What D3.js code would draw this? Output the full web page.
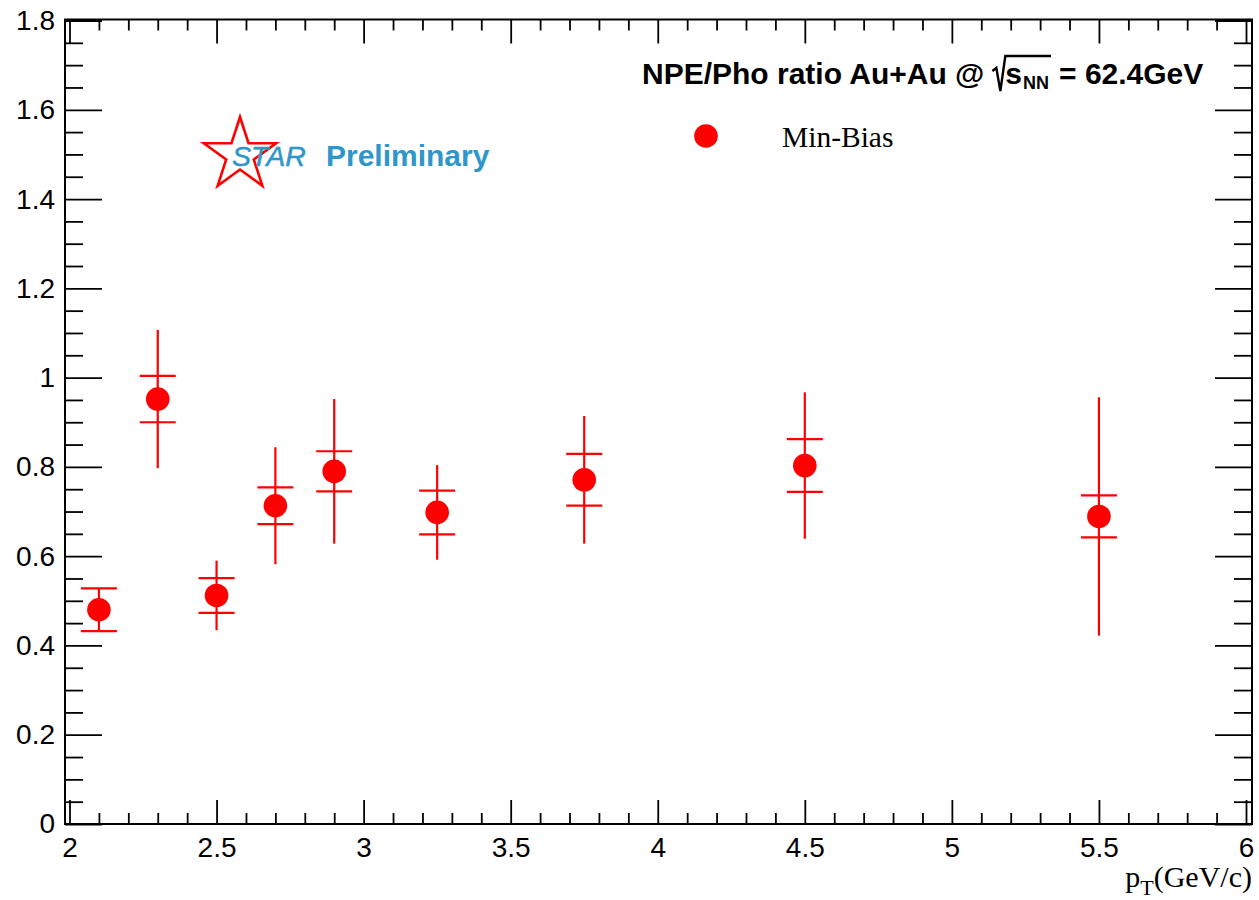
<!DOCTYPE html>
<html>
<head>
<meta charset="utf-8">
<script src="https://cdn.jsdelivr.net/npm/d3@7"></script>
<style>
  html, body { margin: 0; padding: 0; background: #fff; }
  svg { display: block; }
</style>
</head>
<body>
<script>
// ---------------- data ----------------
const pt       = [2.1, 2.3, 2.5, 2.7, 2.9, 3.25, 3.75, 4.5, 5.5];
const ratio    = [0.480, 0.952, 0.512, 0.713, 0.790, 0.698, 0.771, 0.803, 0.689];
const statErr  = [0.047, 0.155, 0.078, 0.131, 0.162, 0.106, 0.143, 0.164, 0.267];
const sysErr   = [0.048, 0.052, 0.039, 0.041, 0.045, 0.049, 0.058, 0.059, 0.047];

const xTickValues = [2, 2.5, 3, 3.5, 4, 4.5, 5, 5.5, 6];
const xTickLabels = ["2", "2.5", "3", "3.5", "4", "4.5", "5", "5.5", "6"];
const yTickValues = [0, 0.2, 0.4, 0.6, 0.8, 1.0, 1.2, 1.4, 1.6, 1.8];
const yTickLabels = ["0", "0.2", "0.4", "0.6", "0.8", "1", "1.2", "1.4", "1.6", "1.8"];

const legendLabel = "Min-Bias";
const xAxisTitle = ["p", "T", "(GeV/c)"];

// ---------------- layout ----------------
const W = 1259, H = 900;
const frame = { left: 65, right: 1252, top: 19.5, bottom: 824 };

const svg = d3.select("body").append("svg")
  .attr("width", W).attr("height", H)
  .attr("viewBox", `0 0 ${W} ${H}`);

const x = d3.scaleLinear().domain([2, 6]).range([69.5, 1246]);
const y = d3.scaleLinear().domain([0, 1.8]).range([824, 20.5]);

const xMinor = d3.range(2, 6.0001, 0.1).map(v => +v.toFixed(2)).filter(v => !xTickValues.some(t => Math.abs(t - v) < 1e-6));
const yMinor = d3.range(0, 1.8001, 0.05).map(v => +v.toFixed(3)).filter(v => !yTickValues.some(t => Math.abs(t - v) < 1e-6));

const axisFont = "Liberation Sans, Arial, Helvetica, sans-serif";
const serifFont = "Liberation Serif, Times New Roman, serif";

function styleAxis(g) {
  g.select(".domain").remove();
  g.selectAll(".tick line").attr("stroke", "#000").attr("stroke-width", 1.8);
  g.selectAll(".tick text").attr("fill", "#000").attr("font-family", axisFont).attr("font-size", 28);
}

// bottom axis - major
svg.append("g").attr("transform", `translate(0,${frame.bottom})`)
  .call(d3.axisBottom(x).tickValues(xTickValues).tickSize(-24).tickPadding(13)
        .tickFormat((d, i) => xTickLabels[i]))
  .call(styleAxis);
// bottom axis - minor
svg.append("g").attr("transform", `translate(0,${frame.bottom})`)
  .call(d3.axisBottom(x).tickValues(xMinor).tickSize(-11).tickFormat(""))
  .call(styleAxis);
// top axis
svg.append("g").attr("transform", `translate(0,${frame.top})`)
  .call(d3.axisTop(x).tickValues(xTickValues).tickSize(-24).tickFormat(""))
  .call(styleAxis);
svg.append("g").attr("transform", `translate(0,${frame.top})`)
  .call(d3.axisTop(x).tickValues(xMinor).tickSize(-11).tickFormat(""))
  .call(styleAxis);

// left axis
svg.append("g").attr("transform", `translate(${frame.left},0)`)
  .call(d3.axisLeft(y).tickValues(yTickValues).tickSize(-37).tickPadding(10)
        .tickFormat((d, i) => yTickLabels[i]))
  .call(styleAxis);
svg.append("g").attr("transform", `translate(${frame.left},0)`)
  .call(d3.axisLeft(y).tickValues(yMinor).tickSize(-18).tickFormat(""))
  .call(styleAxis);
// right axis
svg.append("g").attr("transform", `translate(${frame.right},0)`)
  .call(d3.axisRight(y).tickValues(yTickValues).tickSize(-37).tickFormat(""))
  .call(styleAxis);
svg.append("g").attr("transform", `translate(${frame.right},0)`)
  .call(d3.axisRight(y).tickValues(yMinor).tickSize(-18).tickFormat(""))
  .call(styleAxis);

// frame
svg.append("rect")
  .attr("x", frame.left).attr("y", frame.top)
  .attr("width", frame.right - frame.left).attr("height", frame.bottom - frame.top)
  .attr("fill", "none").attr("stroke", "#000").attr("stroke-width", 2);

// ---------------- data points ----------------
const data = pt.map((p, i) => ({ p, v: ratio[i], st: statErr[i], sy: sysErr[i] }));
const red = "#ff0000";
const capHalf = 18;

const pts = svg.append("g").attr("class", "points");
pts.selectAll("line.stat").data(data).join("line")
  .attr("class", "stat")
  .attr("x1", d => x(d.p)).attr("x2", d => x(d.p))
  .attr("y1", d => y(d.v + d.st)).attr("y2", d => y(d.v - d.st))
  .attr("stroke", red).attr("stroke-width", 2.2);
pts.selectAll("line.sysHi").data(data).join("line")
  .attr("class", "sysHi")
  .attr("x1", d => x(d.p) - capHalf).attr("x2", d => x(d.p) + capHalf)
  .attr("y1", d => y(d.v + d.sy)).attr("y2", d => y(d.v + d.sy))
  .attr("stroke", red).attr("stroke-width", 2.2);
pts.selectAll("line.sysLo").data(data).join("line")
  .attr("class", "sysLo")
  .attr("x1", d => x(d.p) - capHalf).attr("x2", d => x(d.p) + capHalf)
  .attr("y1", d => y(d.v - d.sy)).attr("y2", d => y(d.v - d.sy))
  .attr("stroke", red).attr("stroke-width", 2.2);
pts.selectAll("circle").data(data).join("circle")
  .attr("cx", d => x(d.p)).attr("cy", d => y(d.v)).attr("r", 11.8)
  .attr("fill", red);

// ---------------- legend ----------------
svg.append("circle").attr("cx", 706).attr("cy", 136).attr("r", 11.8).attr("fill", red);
svg.append("text").attr("x", 782).attr("y", 146.5)
  .attr("font-family", serifFont).attr("font-size", 29.5).attr("fill", "#000")
  .text(legendLabel);

// ---------------- title with sqrt ----------------
const tg = svg.append("g").attr("font-family", axisFont).attr("font-weight", "bold").attr("fill", "#000");
const base = 84, fs = 30;
let cx = 642;
const t1 = tg.append("text").attr("x", cx).attr("y", base).attr("font-size", fs).text("NPE/Pho ratio Au+Au @");
cx += t1.node().getComputedTextLength() + 8;
const radStart = cx;
const sText = tg.append("text").attr("x", radStart + 13).attr("y", base).attr("font-size", fs).text("s");
let sx = radStart + 13 + sText.node().getComputedTextLength() + 1;
const nnText = tg.append("text").attr("x", sx).attr("y", base + 5).attr("font-size", 18).text("NN");
sx += nnText.node().getComputedTextLength();
const rad = d3.path();
rad.moveTo(radStart, base - 13);
rad.lineTo(radStart + 4, base - 16);
rad.lineTo(radStart + 8, base + 7);
rad.lineTo(radStart + 13, base - 28);
rad.lineTo(sx + 2, base - 28);
tg.append("path").attr("d", rad.toString()).attr("fill", "none").attr("stroke", "#000").attr("stroke-width", 2.4);
tg.append("text").attr("x", sx + 10).attr("y", base).attr("font-size", fs).text("= 62.4GeV");

// ---------------- STAR Preliminary ----------------
const starR = 38, starCx = 240, starCy = 155;
const starPts = d3.range(10).map(i => {
  const r = i % 2 === 0 ? starR : starR * 0.382;
  const a = -Math.PI / 2 + i * Math.PI / 5;
  return [starCx + r * Math.cos(a), starCy + r * Math.sin(a)];
});
svg.append("path").attr("d", d3.line()(starPts) + "Z")
  .attr("fill", "none").attr("stroke", red).attr("stroke-width", 2.6).attr("stroke-linejoin", "miter");
const blue = "#2f96cc";
svg.append("text").attr("x", 232).attr("y", 166)
  .attr("font-family", axisFont).attr("font-style", "italic").attr("font-size", 28.5).attr("fill", blue)
  .attr("stroke", blue).attr("stroke-width", 0.5)
  .text("STAR");
svg.append("text").attr("x", 326).attr("y", 166)
  .attr("font-family", axisFont).attr("font-weight", "bold").attr("font-size", 30).attr("fill", blue)
  .text("Preliminary");

// ---------------- x axis title ----------------
const xt = svg.append("text").attr("x", 1252).attr("y", 887).attr("text-anchor", "end")
  .attr("font-family", serifFont).attr("font-size", 30).attr("fill", "#000");
xt.append("tspan").text(xAxisTitle[0]);
xt.append("tspan").attr("font-size", 22).attr("dy", 8).text(xAxisTitle[1]);
xt.append("tspan").attr("font-size", 30).attr("dy", -8).text(xAxisTitle[2]);
</script>
</body>
</html>
